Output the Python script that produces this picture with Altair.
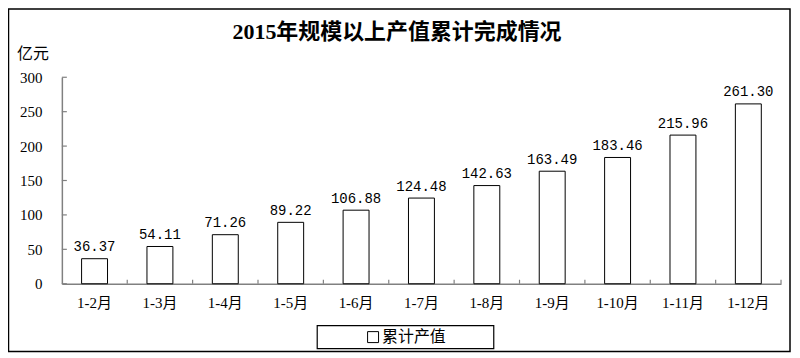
import altair as alt
import pandas as pd

categories = ["1-2月", "1-3月", "1-4月", "1-5月", "1-6月", "1-7月",
              "1-8月", "1-9月", "1-10月", "1-11月", "1-12月"]
values = [36.37, 54.11, 71.26, 89.22, 106.88, 124.48,
          142.63, 163.49, 183.46, 215.96, 261.30]
y_ticks = [0, 50, 100, 150, 200, 250, 300]
series_name = "累计产值"
title_text = "2015年规模以上产值累计完成情况"
unit_text = "亿元"

df = pd.DataFrame({"cat": categories, "val": values})
df["label"] = df["val"].map(lambda v: f"{v:.2f}")
ticks_df = pd.DataFrame({"t": y_ticks})

W, H = 721, 207
GRAY = "#808080"
SERIF_CJK = "Liberation Serif, Noto Sans CJK SC"

xscale = alt.Scale(domain=categories, paddingInner=0, paddingOuter=0)
yscale = alt.Scale(domain=[0, 300], nice=False)

xaxis = alt.Axis(title=None, labelAngle=0, ticks=False, domainColor=GRAY,
                 domainWidth=1.5, labelFont=SERIF_CJK, labelFontSize=15,
                 labelPadding=12, labelColor="black")
yaxis = alt.Axis(title=None, values=y_ticks, ticks=False, grid=False,
                 domainColor=GRAY, domainWidth=1.5, labelPadding=20,
                 labelFont="Liberation Serif", labelFontSize=15,
                 labelColor="black")

base = alt.Chart(df)

border = alt.Chart(pd.DataFrame({"a": [0]})).mark_rect(
    fill="transparent", stroke="black", strokeWidth=1.5
).encode(x=alt.value(-53.5), x2=alt.value(730), y=alt.value(-68.5), y2=alt.value(275))

bars = base.mark_bar(width=26, fill="white", stroke="black", strokeWidth=1).encode(
    x=alt.X("cat:N", scale=xscale, sort=categories, axis=xaxis),
    y=alt.Y("val:Q", scale=yscale, axis=yaxis),
)

labels = base.mark_text(dy=-7.5, baseline="alphabetic", font="Liberation Mono",
                        fontSize=14, color="black").encode(
    x=alt.X("cat:N", scale=xscale, sort=categories, axis=xaxis),
    y=alt.Y("val:Q", scale=yscale, axis=yaxis),
    text="label:N",
)

yticks = alt.Chart(ticks_df).mark_rule(color=GRAY, strokeWidth=1.2).encode(
    y=alt.Y("t:Q", scale=yscale, axis=yaxis), x=alt.value(0), x2=alt.value(5)
)

xticks = base.mark_rule(color=GRAY, strokeWidth=1.2).encode(
    x=alt.X("cat:N", scale=xscale, sort=categories, axis=xaxis, bandPosition=1),
    y=alt.value(H), y2=alt.value(H - 4),
)

title = alt.Chart(pd.DataFrame({"t": [title_text]})).mark_text(
    font=SERIF_CJK, fontSize=22, fontWeight="bold", baseline="middle", align="center",
    color="black"
).encode(text="t:N", x=alt.value(336), y=alt.value(-45))

unit = alt.Chart(pd.DataFrame({"t": [unit_text]})).mark_text(
    font="Noto Sans CJK SC", fontSize=16, baseline="middle", align="left", color="black"
).encode(text="t:N", x=alt.value(-45), y=alt.value(-23.5))

legend_box = alt.Chart(pd.DataFrame({"a": [0]})).mark_rect(
    fill="white", stroke="black", strokeWidth=1.2
).encode(x=alt.value(256), x2=alt.value(433), y=alt.value(249), y2=alt.value(272))

legend_sym = alt.Chart(pd.DataFrame({"a": [0]})).mark_rect(
    fill="white", stroke="black", strokeWidth=1
).encode(x=alt.value(306.5), x2=alt.value(317.5), y=alt.value(255), y2=alt.value(266))

legend_txt = alt.Chart(pd.DataFrame({"t": [series_name]})).mark_text(
    font="Noto Sans CJK SC", fontSize=16, baseline="middle", align="left", color="black"
).encode(text="t:N", x=alt.value(321), y=alt.value(260.5))

chart = alt.layer(
    border, bars, yticks, xticks, labels, title, unit, legend_box, legend_sym, legend_txt
).properties(
    width=W, height=H,
    autosize=alt.AutoSizeParams(type="none"),
    padding={"left": 54, "top": 69, "right": 11, "bottom": 70},
).configure_view(stroke="transparent")

chart.save("out.html", embed_options={"renderer": "svg", "actions": False})
